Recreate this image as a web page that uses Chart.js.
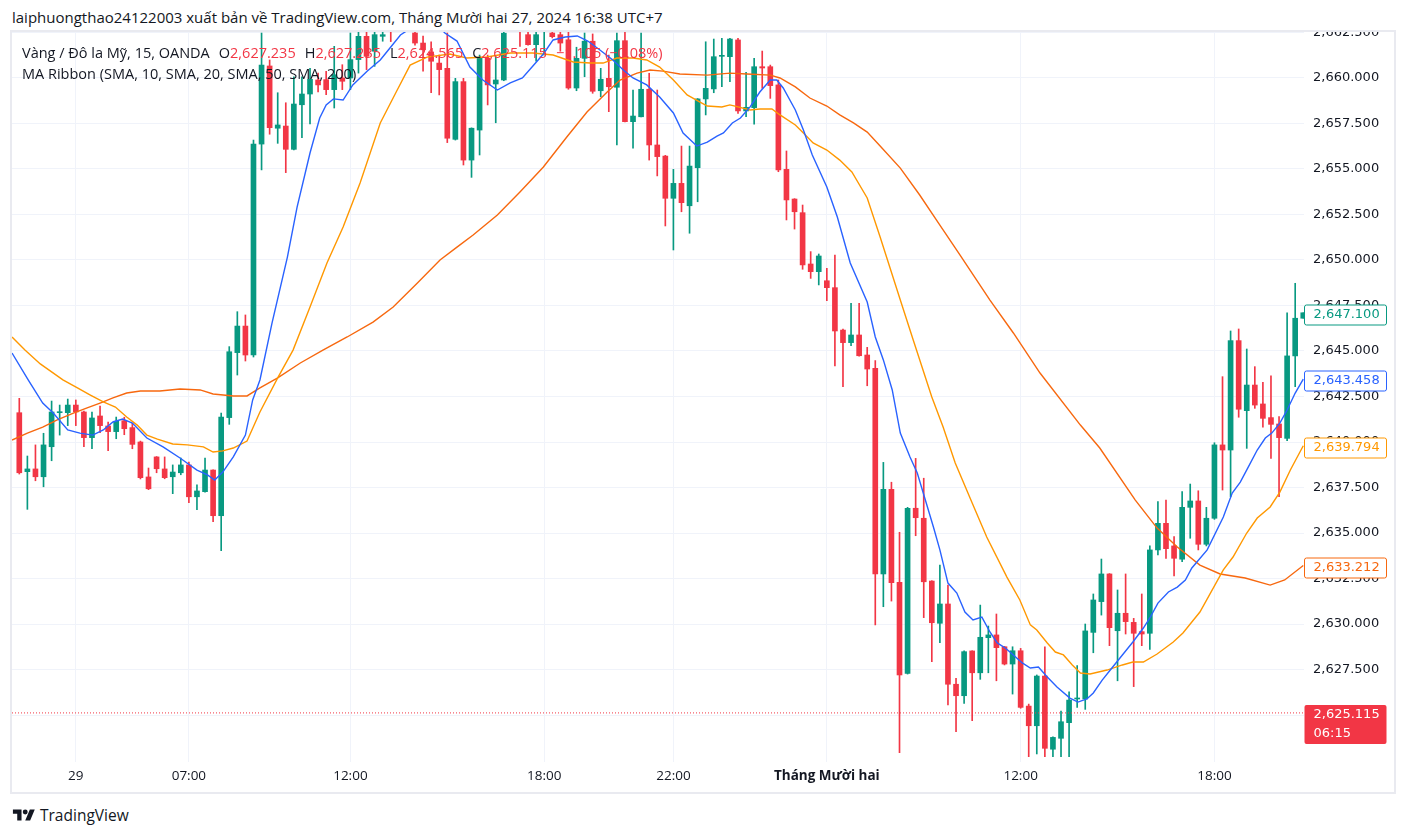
<!DOCTYPE html>
<html><head><meta charset="utf-8">
<script src="https://cdn.jsdelivr.net/npm/chart.js@4.4.1/dist/chart.umd.min.js"></script>
<style>
html,body{margin:0;padding:0;background:#fff;}
body{width:1406px;height:836px;position:relative;overflow:hidden;font-family:"Open Sans",sans-serif;color:#131722;}
#hdr{position:absolute;left:12px;top:7px;font-size:15px;line-height:20px;white-space:nowrap;}
#frame{position:absolute;left:10px;top:30px;width:1386px;height:764px;box-sizing:border-box;border:2px solid #e9eaf0;}
#wrap{position:absolute;left:12px;top:32px;width:1382px;height:760px;}
.leg{position:absolute;left:22px;font-size:14.5px;line-height:18px;white-space:nowrap;color:#131722;}
#leg1{top:44px;} #leg2{top:65px;}
.k{margin-left:9px;} .r{color:#f23645;}
#foot{position:absolute;left:12px;top:805px;font-size:15.5px;line-height:20px;white-space:nowrap;color:#131722;display:flex;align-items:center;}
#foot svg{margin-right:4px;}
</style></head>
<body>
<div id="hdr">laiphuongthao24122003 xuất bản về TradingView.com, Tháng Mười hai 27, 2024 16:38 UTC+7</div>
<div id="frame"></div>
<div id="wrap"><canvas id="c" width="1382" height="760"></canvas></div>
<div class="leg" id="leg1"><span>Vàng / Đô la Mỹ, 15, OANDA</span><span class="k">O</span><span class="r">2,627.235</span><span class="k">H</span><span class="r">2,627.235</span><span class="k">L</span><span class="r">2,624.565</span><span class="k">C</span><span class="r">2,625.115</span><span class="r k">−1.105 (−0.08%)</span></div>
<div class="leg" id="leg2">MA Ribbon (SMA, 10, SMA, 20, SMA, 50, SMA, 200)</div>
<div id="foot"><svg width="24" height="16" viewBox="0 0 36 26"><path fill="#131722" d="M14 22H7V11H0V4h14v18zM28 22h-8l7.5-18h8L28 22z"/><circle fill="#131722" cx="20" cy="8" r="4"/></svg><span>TradingView</span></div>
<script>
// ---- OHLC data (15-min candles) ----
const opens = [2641.61,2638.37,2638.52,2638.09,2639.74,2641.61,2641.61,2642.03,2641.65,2640.24,
2641.43,2640.88,2640.57,2641.17,2640.79,2640.00,2638.08,2639.18,2638.52,2638.09,
2638.31,2638.74,2636.99,2637.27,2638.46,2635.95,2641.34,2644.91,2646.37,2644.78,
2656.37,2660.66,2657.24,2657.36,2656.08,2658.53,2659.12,2659.89,2659.91,2659.36,
2660.00,2660.00,2661.01,2662.29,2661.47,2662.29,2663.20,2662.80,2663.50,2662.47,
2661.92,2661.43,2660.82,2660.53,2656.63,2659.80,2655.49,2657.14,2661.08,2659.67,
2659.89,2662.90,2663.50,2662.38,2661.83,2662.70,2662.47,2662.38,2662.10,2659.45,
2661.08,2662.02,2659.30,2659.98,2659.49,2662.05,2657.60,2657.87,2659.38,2656.32,
2655.71,2653.39,2654.21,2652.98,2655.07,2658.85,2659.40,2661.19,2661.17,2662.09,
2658.19,2658.37,2660.62,2660.62,2659.62,2654.98,2653.35,2652.60,2649.78,2649.36,
2648.86,2648.48,2646.15,2645.46,2645.88,2644.78,2644.05,2632.75,2637.40,2632.29,
2627.29,2636.36,2635.81,2632.36,2630.04,2631.10,2626.69,2626.06,2628.52,2627.32,
2629.25,2629.40,2628.75,2627.80,2628.53,2625.49,2624.41,2627.14,2623.12,2623.72,
2624.58,2625.88,2625.88,2629.54,2631.23,2632.75,2629.63,2630.59,2630.09,2629.58,
2629.49,2634.07,2635.53,2634.29,2633.56,2636.41,2636.76,2634.38,2635.81,2639.84,
2639.56,2645.57,2641.72,2643.13,2642.09,2641.34,2640.99,2640.20,2644.73,2646.80];
const highs = [2642.40,2639.23,2639.84,2640.48,2642.25,2642.03,2642.36,2642.31,2641.70,2641.65,
2641.98,2641.10,2641.37,2641.36,2641.03,2640.05,2638.57,2639.20,2639.18,2638.74,
2639.12,2638.90,2637.64,2639.12,2638.47,2641.59,2645.24,2647.16,2646.98,2656.59,
2662.47,2660.99,2659.19,2658.64,2660.07,2660.07,2660.53,2660.27,2660.37,2661.74,
2660.73,2662.47,2662.60,2662.60,2662.70,2662.60,2663.60,2664.00,2664.00,2663.00,
2662.30,2661.99,2661.26,2662.47,2659.98,2659.98,2657.26,2661.26,2661.26,2661.17,
2662.80,2664.00,2664.00,2662.90,2662.90,2664.00,2662.80,2662.70,2662.70,2661.69,
2662.47,2662.42,2660.53,2661.26,2662.47,2662.60,2659.34,2662.47,2660.26,2659.34,
2655.75,2654.98,2656.26,2656.26,2658.87,2661.99,2662.14,2662.18,2662.18,2662.18,
2660.31,2661.08,2661.48,2660.71,2659.89,2655.99,2653.37,2653.02,2650.46,2650.33,
2649.54,2650.27,2646.21,2647.62,2647.62,2645.20,2644.47,2638.88,2637.79,2635.04,
2636.41,2639.10,2638.01,2632.38,2633.24,2632.14,2627.02,2628.52,2628.53,2631.04,
2629.89,2630.55,2628.77,2628.75,2628.66,2625.60,2627.20,2628.75,2623.80,2625.22,
2626.28,2627.71,2630.00,2631.65,2633.57,2632.77,2631.87,2632.75,2630.31,2631.65,
2634.29,2636.72,2636.81,2634.80,2637.27,2637.69,2637.32,2636.41,2639.96,2643.59,
2646.10,2646.21,2645.11,2644.14,2643.28,2643.63,2641.39,2647.10,2648.72,2647.10];
const lows = [2638.24,2636.30,2637.87,2637.54,2638.97,2640.38,2640.90,2640.90,2639.74,2639.63,
2640.51,2639.52,2640.18,2640.40,2639.63,2637.97,2637.38,2638.31,2637.98,2637.16,
2638.20,2636.66,2636.28,2637.25,2635.62,2634.03,2640.97,2643.68,2644.45,2644.67,
2654.95,2656.91,2656.41,2654.80,2656.05,2656.72,2657.47,2659.23,2659.08,2658.35,
2659.36,2659.36,2660.27,2660.46,2660.64,2662.02,2662.00,2662.60,2662.70,2661.81,
2660.37,2659.19,2659.07,2656.45,2656.59,2655.22,2654.54,2655.77,2658.52,2657.54,
2659.85,2662.70,2661.74,2661.80,2660.92,2661.26,2662.20,2661.47,2659.38,2659.30,
2660.07,2659.16,2658.97,2658.15,2656.32,2657.58,2656.14,2657.86,2655.49,2654.62,
2651.87,2650.55,2652.65,2651.47,2653.20,2657.97,2659.19,2659.52,2659.80,2658.06,
2657.87,2657.46,2659.43,2658.88,2654.85,2652.20,2651.70,2649.49,2648.99,2648.63,
2647.76,2644.18,2643.04,2645.29,2644.72,2643.09,2629.95,2630.95,2631.26,2622.93,
2627.25,2634.85,2630.35,2627.93,2628.97,2625.55,2624.08,2625.64,2624.69,2626.96,
2627.32,2626.88,2627.75,2626.15,2625.37,2622.71,2622.86,2622.71,2622.71,2622.71,
2622.71,2625.42,2625.31,2628.42,2630.49,2628.81,2626.88,2629.45,2626.56,2628.81,
2628.61,2633.79,2633.61,2632.64,2633.42,2634.71,2634.07,2634.29,2635.75,2637.36,
2636.99,2641.36,2639.65,2641.85,2640.81,2639.10,2636.99,2640.07,2643.04,2646.80];
const closes = [2638.31,2638.52,2638.09,2639.84,2641.65,2641.65,2642.03,2641.65,2640.24,2641.32,
2640.90,2640.57,2641.14,2640.73,2639.87,2638.04,2637.43,2638.53,2638.04,2638.35,
2638.74,2636.99,2637.31,2638.46,2635.95,2641.37,2644.96,2646.37,2644.78,2656.37,
2660.71,2657.27,2657.42,2656.08,2658.57,2659.12,2659.93,2659.62,2659.36,2660.18,
2659.82,2661.01,2662.29,2661.19,2662.38,2662.38,2662.80,2663.50,2663.00,2661.92,
2661.55,2660.92,2660.46,2656.69,2659.80,2655.49,2657.24,2661.14,2659.62,2659.89,
2662.46,2663.60,2662.80,2661.83,2662.38,2663.30,2662.27,2661.92,2659.45,2661.08,
2662.02,2659.27,2659.93,2659.52,2662.05,2657.60,2657.91,2659.38,2656.32,2655.68,
2653.39,2654.21,2653.15,2655.16,2658.85,2659.43,2661.17,2661.21,2662.14,2658.19,
2658.39,2660.62,2660.55,2659.58,2654.95,2653.30,2652.65,2649.73,2649.36,2650.22,
2648.48,2646.10,2645.46,2645.88,2644.74,2644.01,2632.75,2637.40,2632.27,2627.20,
2636.36,2635.84,2632.32,2630.07,2631.10,2626.69,2626.06,2628.48,2627.32,2629.27,
2629.40,2628.70,2627.80,2628.53,2625.42,2624.41,2627.14,2623.17,2623.77,2624.63,
2625.82,2625.92,2629.62,2631.32,2632.75,2629.80,2630.59,2630.13,2629.49,2629.45,
2634.07,2635.53,2634.14,2633.61,2636.41,2636.76,2634.38,2635.81,2639.84,2639.56,
2645.57,2641.80,2643.13,2642.03,2641.30,2640.97,2640.24,2644.73,2646.80,2647.10];

// ---- Moving averages, vertices: [candle index, price] ----
const ma10Pts = [[-0.9,2644.89],[1.1,2643.41],[2.9,2642.14],[4.2,2641.59],[6.0,2640.66],[7.5,2640.49],[9.1,2640.38],[10.4,2640.66],[11.6,2641.10],[12.8,2641.26],[14.0,2641.04],[15.8,2640.22],[17.8,2639.73],[19.9,2639.12],[22.0,2638.46],[23.3,2638.19],[24.2,2637.91],[25.2,2638.35],[26.5,2639.18],[28.0,2640.38],[28.9,2642.31],[29.8,2643.41],[31.3,2646.54],[33.2,2650.16],[34.4,2652.91],[36.0,2655.88],[37.2,2657.80],[38.0,2658.52],[38.9,2658.85],[40.1,2658.79],[41.3,2659.62],[43.1,2660.38],[44.7,2660.99],[45.9,2661.65],[47.2,2662.36],[49.6,2663.08],[51.5,2663.08],[52.7,2662.47],[54.2,2662.03],[55.8,2660.60],[57.4,2659.89],[59.2,2659.34],[60.8,2659.73],[62.3,2660.00],[63.6,2660.66],[64.9,2661.32],[66.1,2662.09],[67.6,2662.25],[69.1,2662.31],[70.4,2662.03],[71.9,2661.54],[73.5,2660.99],[74.8,2660.44],[76.0,2660.00],[77.7,2659.62],[79.3,2658.96],[81.0,2658.08],[82.2,2656.98],[83.9,2656.26],[85.2,2656.48],[86.4,2656.81],[87.2,2656.98],[88.3,2657.53],[89.3,2657.80],[90.5,2658.41],[91.7,2659.23],[93.0,2659.89],[93.8,2659.89],[94.6,2659.45],[96.1,2658.24],[97.1,2657.14],[98.2,2655.77],[100.0,2654.01],[101.3,2652.36],[102.9,2649.84],[105.0,2647.69],[106.0,2645.77],[107.0,2644.51],[108.1,2642.86],[109.1,2640.49],[110.3,2639.18],[111.2,2638.30],[112.2,2636.81],[113.2,2635.33],[114.0,2634.07],[115.0,2632.25],[116.1,2631.70],[117.1,2630.66],[118.1,2630.22],[119.2,2630.38],[120.2,2629.56],[121.1,2628.96],[122.1,2628.68],[123.1,2628.30],[124.2,2627.86],[125.2,2627.58],[126.2,2627.64],[127.3,2627.09],[128.5,2626.54],[130.1,2625.93],[131.1,2625.71],[132.2,2625.88],[133.0,2626.21],[134.1,2626.92],[135.3,2627.58],[136.3,2628.13],[137.9,2629.01],[139.2,2629.78],[140.0,2630.33],[141.0,2631.15],[142.3,2631.76],[143.4,2632.03],[144.4,2632.42],[145.2,2633.08],[147.1,2634.07],[149.1,2635.88],[150.2,2637.20],[151.2,2637.80],[152.2,2638.63],[153.3,2639.56],[154.3,2640.22],[155.1,2640.49],[156.1,2641.04],[157.0,2641.76],[158.0,2642.69],[159.0,2643.458]];
const ma20Pts = [[-0.9,2645.77],[0.7,2645.05],[2.6,2644.29],[5.4,2643.41],[7.2,2642.97],[8.8,2642.58],[10.4,2642.20],[11.9,2641.92],[13.3,2641.37],[14.6,2640.93],[15.8,2640.38],[17.1,2640.16],[19.0,2639.89],[20.8,2639.84],[22.8,2639.73],[24.0,2639.45],[25.2,2639.51],[26.5,2639.67],[28.2,2640.05],[29.8,2641.65],[32.0,2643.52],[33.9,2645.05],[36.0,2647.42],[38.1,2649.84],[40.1,2651.81],[42.2,2654.23],[44.7,2657.53],[46.8,2659.34],[48.4,2660.71],[50.5,2661.15],[53.3,2661.32],[55.4,2661.10],[57.9,2661.15],[60.8,2661.37],[63.6,2661.37],[66.1,2661.26],[68.6,2660.88],[70.7,2660.82],[72.3,2660.82],[74.0,2661.10],[76.0,2661.10],[77.7,2660.99],[79.3,2660.60],[81.0,2659.89],[82.7,2659.07],[84.3,2658.68],[85.2,2658.46],[87.0,2658.41],[88.0,2658.52],[89.0,2658.41],[90.5,2658.24],[91.7,2658.30],[93.2,2658.30],[94.2,2657.97],[96.1,2657.42],[97.1,2656.98],[98.3,2656.43],[100.0,2656.04],[101.6,2655.49],[103.1,2654.84],[105.0,2653.41],[106.6,2651.26],[109.1,2647.80],[110.7,2645.60],[113.0,2642.47],[114.4,2640.82],[115.9,2638.85],[118.0,2636.65],[119.8,2634.78],[122.3,2632.58],[123.9,2631.32],[125.2,2629.95],[126.0,2629.67],[127.3,2628.96],[128.3,2628.46],[129.3,2628.30],[130.4,2627.75],[131.4,2627.31],[132.6,2627.25],[134.7,2627.47],[136.6,2627.75],[137.9,2627.91],[139.2,2627.91],[140.9,2628.35],[142.9,2629.01],[144.1,2629.51],[145.2,2630.11],[146.2,2630.66],[149.1,2632.97],[150.3,2633.68],[152.0,2635.00],[153.3,2635.82],[154.9,2636.43],[156.1,2637.25],[157.4,2638.46],[159.0,2639.794]];
const ma50Pts = [[-0.9,2640.11],[1.0,2640.49],[2.9,2640.82],[4.7,2641.21],[6.7,2641.59],[8.4,2641.87],[10.0,2642.14],[11.6,2642.42],[13.3,2642.69],[15.0,2642.80],[17.4,2642.80],[19.9,2642.91],[22.4,2642.86],[24.0,2642.64],[26.5,2642.53],[28.2,2642.53],[29.8,2642.97],[32.0,2643.52],[34.8,2644.34],[37.6,2645.05],[40.6,2645.77],[43.8,2646.59],[46.3,2647.42],[49.3,2648.74],[52.1,2650.00],[54.2,2650.71],[56.2,2651.37],[59.2,2652.47],[62.0,2653.74],[64.9,2655.11],[67.8,2656.76],[70.3,2658.13],[72.8,2659.23],[74.4,2659.89],[76.5,2660.27],[78.1,2660.44],[79.7,2660.38],[81.8,2660.22],[85.2,2660.16],[88.0,2660.27],[90.1,2660.22],[93.0,2660.16],[94.2,2660.00],[96.1,2659.51],[97.9,2658.90],[100.0,2658.46],[101.6,2657.97],[103.3,2657.53],[105.0,2657.03],[106.6,2656.26],[109.1,2655.05],[111.5,2653.57],[114.0,2651.92],[116.5,2650.27],[120.2,2647.80],[123.1,2645.99],[126.4,2643.79],[131.4,2640.93],[133.8,2639.67],[138.2,2636.81],[140.9,2635.27],[143.4,2634.23],[146.2,2633.24],[148.7,2632.75],[151.8,2632.53],[154.9,2632.14],[156.7,2632.42],[159.0,2633.212]];

// ---- axis ticks and price labels ----
const tickIdx  = [7, 21, 41, 65, 81, 100, 124, 148];
const tickText = ['29', '07:00', '12:00', '18:00', '22:00', 'Tháng Mười hai', '12:00', '18:00'];
const boldTick = 'Tháng Mười hai';
const lastClose = 2647.100;
const ma10Last = 2643.458, ma20Last = 2639.794, ma50Last = 2633.212;
const currentPrice = 2625.115, countdown = '06:15';

// ---- view range ----
const xMin = -0.904, xMax = 159.09;
const yMin = 2622.418, yMax = 2662.527;

const GREEN = '#089981', RED = '#f23645';
const C10 = '#2962ff', C20 = '#ff9800', C50 = '#f7680f';
const fmt = v => v.toLocaleString('en-US', {minimumFractionDigits: 3, maximumFractionDigits: 3});

const idx = opens.map((_, i) => i);
const colors = idx.map(i => closes[i] >= opens[i] ? GREEN : RED);
const bodies = idx.map(i => ({x: i, y: [opens[i], closes[i]]}));
const wicks = idx.map(i => ({x: i, y: [lows[i], highs[i]]}));
const toXY = pts => pts.map(p => ({x: p[0], y: p[1]}));

const labelPlugin = {
  id: 'priceLabels',
  afterDraw(chart) {
    const ctx = chart.ctx, ys = chart.scales.y, a = chart.chartArea;
    const x0 = a.right + 0.5, w = 82;
    ctx.save();
    ctx.font = '13px "DejaVu Sans"';
    ctx.textBaseline = 'middle';
    ctx.textAlign = 'left';
    const boxes = [[lastClose, GREEN], [ma10Last, C10], [ma20Last, C20], [ma50Last, C50]];
    boxes.forEach(([v, col]) => {
      const y = Math.round(ys.getPixelForValue(v)) + 1.5;
      ctx.fillStyle = '#fff';
      ctx.strokeStyle = col;
      ctx.lineWidth = 1;
      ctx.beginPath();
      ctx.roundRect(x0, y - 9.5, w, 20, 2);
      ctx.fill(); ctx.stroke();
      ctx.fillStyle = col;
      ctx.fillText(fmt(v), x0 + 9, y + 0.5);
    });
    const yc = Math.round(ys.getPixelForValue(currentPrice));
    ctx.fillStyle = RED;
    ctx.beginPath();
    ctx.roundRect(x0, yc - 8, w, 39, 2);
    ctx.fill();
    ctx.fillStyle = '#fff';
    ctx.fillText(fmt(currentPrice), x0 + 9, yc + 2);
    ctx.fillText(countdown, x0 + 9, yc + 21);
    ctx.restore();
  }
};

const lineDs = (pts, col) => ({type: 'line', data: toXY(pts), borderColor: col, borderWidth: 1.4,
  pointRadius: 0, tension: 0, order: 0, clip: 0});

new Chart(document.getElementById('c'), {
  type: 'bar',
  data: {
    datasets: [
      lineDs(ma10Pts, C10),
      lineDs(ma20Pts, C20),
      lineDs(ma50Pts, C50),
      {type: 'line', data: [{x: xMin, y: currentPrice}, {x: xMax, y: currentPrice}], borderColor: RED,
       borderWidth: 1, borderDash: [1, 2], pointRadius: 0, order: 0},
      {type: 'bar', data: bodies, backgroundColor: colors, barThickness: 5, grouped: false,
       minBarLength: 1, borderWidth: 0, order: 1},
      {type: 'bar', data: wicks, backgroundColor: colors, barThickness: 1, grouped: false,
       borderWidth: 0, order: 2}
    ]
  },
  options: {
    responsive: false, animation: false, maintainAspectRatio: false,
    layout: {padding: 0},
    plugins: {legend: {display: false}, tooltip: {enabled: false}},
    scales: {
      x: {
        type: 'linear', min: xMin, max: xMax, offset: false,
        grid: {color: '#f0f3fa', drawTicks: false, offset: false},
        border: {display: false},
        afterBuildTicks: s => { s.ticks = tickIdx.map(v => ({value: v})); },
        afterFit: s => { s.height = 30; s.paddingLeft = 0; s.paddingRight = 0; },
        ticks: {
          autoSkip: false, maxRotation: 0, padding: 6, color: '#131722',
          font: c => ({family: '"Open Sans"', size: 13.5,
            weight: (c.tick && tickText[tickIdx.indexOf(c.tick.value)] === boldTick) ? 'bold' : 'normal'}),
          callback: v => { const k = tickIdx.indexOf(v); return k >= 0 ? tickText[k] : ''; }
        }
      },
      y: {
        type: 'linear', position: 'right', min: yMin, max: yMax,
        grid: {color: '#f0f3fa', drawTicks: false},
        border: {display: false},
        afterBuildTicks: s => { s.ticks = s.ticks.filter(t => t.value > 2623.5); },
        afterFit: s => { s.width = 90; s.paddingTop = 0; s.paddingBottom = 0; },
        ticks: {stepSize: 2.5, includeBounds: false, padding: 9, color: '#131722',
          font: {family: '"DejaVu Sans"', size: 13}, callback: v => fmt(v)}
      }
    }
  },
  plugins: [labelPlugin]
});
</script>
</body></html>
